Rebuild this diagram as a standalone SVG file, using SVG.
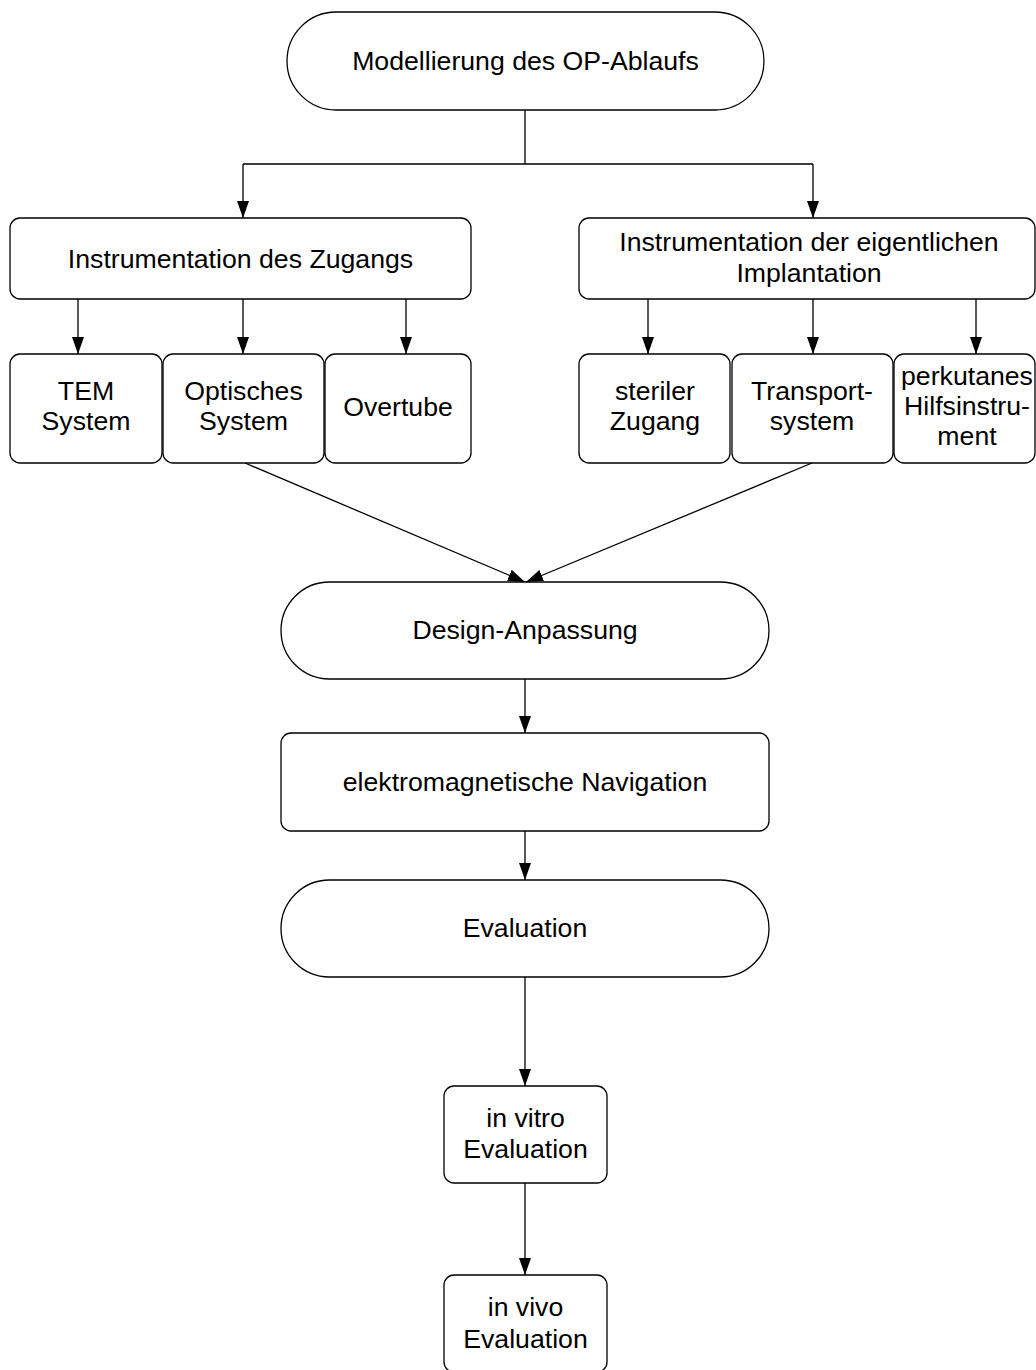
<svg xmlns="http://www.w3.org/2000/svg" width="1036" height="1370" viewBox="0 0 1036 1370">
<style>
.n{fill:#fff;stroke:#000;stroke-width:1.3}
.t{font-family:"Liberation Sans",Arial,sans-serif;font-size:26.67px;fill:#000;text-anchor:middle}
.c{fill:none;stroke:#000;stroke-width:1.3}
</style>
<defs>
<marker id="ah" markerUnits="userSpaceOnUse" markerWidth="17" markerHeight="12" refX="17" refY="6" orient="auto" viewBox="0 0 17 12">
<path d="M0,0 L17,6 L0,12 z" fill="#000"/>
</marker>
</defs>
<rect width="1036" height="1370" fill="#fff"/>
<g id="connectors">
<path class="c" d="M525,110 V164 M243,164 H813"/>
<path class="c" d="M243,164 V218" marker-end="url(#ah)"/>
<path class="c" d="M813,164 V218" marker-end="url(#ah)"/>
<path class="c" d="M78,299 V354" marker-end="url(#ah)"/>
<path class="c" d="M243,299 V354" marker-end="url(#ah)"/>
<path class="c" d="M406,299 V354" marker-end="url(#ah)"/>
<path class="c" d="M648,299 V354" marker-end="url(#ah)"/>
<path class="c" d="M813,299 V354" marker-end="url(#ah)"/>
<path class="c" d="M976,299 V354" marker-end="url(#ah)"/>
<path class="c" d="M245,463 L525,582" marker-end="url(#ah)"/>
<path class="c" d="M812,463 L526,582" marker-end="url(#ah)"/>
<path class="c" d="M525,679 V733" marker-end="url(#ah)"/>
<path class="c" d="M525,831 V880" marker-end="url(#ah)"/>
<path class="c" d="M525,977 V1086" marker-end="url(#ah)"/>
<path class="c" d="M525,1183 V1275" marker-end="url(#ah)"/>
</g>
<g id="n-modell">
<rect class="n" x="287" y="12" width="477" height="98" rx="49"/>
<text class="t" x="525.5" y="70">Modellierung des OP-Ablaufs</text>
</g>
<g id="n-zugang">
<rect class="n" x="10" y="218" width="461" height="81" rx="10"/>
<text class="t" x="240.5" y="268">Instrumentation des Zugangs</text>
</g>
<g id="n-implant">
<rect class="n" x="579" y="218" width="456" height="81" rx="10"/>
<text class="t" x="809" y="251">Instrumentation der eigentlichen</text>
<text class="t" x="809" y="282">Implantation</text>
</g>
<g id="n-tem">
<rect class="n" x="10" y="354" width="152" height="109" rx="10"/>
<text class="t" x="86" y="400">TEM</text>
<text class="t" x="86" y="430">System</text>
</g>
<g id="n-optisch">
<rect class="n" x="163" y="354" width="161" height="109" rx="10"/>
<text class="t" x="243.5" y="400">Optisches</text>
<text class="t" x="243.5" y="430">System</text>
</g>
<g id="n-overtube">
<rect class="n" x="325" y="354" width="146" height="109" rx="10"/>
<text class="t" x="398" y="416">Overtube</text>
</g>
<g id="n-steril">
<rect class="n" x="579" y="354" width="151" height="109" rx="10"/>
<text class="t" x="655" y="400">steriler</text>
<text class="t" x="655" y="430">Zugang</text>
</g>
<g id="n-transport">
<rect class="n" x="732" y="354" width="161" height="109" rx="10"/>
<text class="t" x="812" y="400">Transport-</text>
<text class="t" x="812" y="430">system</text>
</g>
<g id="n-perkutan">
<rect class="n" x="894" y="354" width="141" height="109" rx="10"/>
<text class="t" x="967" y="385">perkutanes</text>
<text class="t" x="967" y="415">Hilfsinstru-</text>
<text class="t" x="967" y="445">ment</text>
</g>
<g id="n-design">
<rect class="n" x="281" y="582" width="488" height="97" rx="48.5"/>
<text class="t" x="525" y="639">Design-Anpassung</text>
</g>
<g id="n-navi">
<rect class="n" x="281" y="733" width="488" height="98" rx="10"/>
<text class="t" x="525" y="791">elektromagnetische Navigation</text>
</g>
<g id="n-eval">
<rect class="n" x="281" y="880" width="488" height="97" rx="48.5"/>
<text class="t" x="525" y="937">Evaluation</text>
</g>
<g id="n-vitro">
<rect class="n" x="444" y="1086" width="163" height="97" rx="10"/>
<text class="t" x="525.5" y="1127">in vitro</text>
<text class="t" x="525.5" y="1158">Evaluation</text>
</g>
<g id="n-vivo">
<rect class="n" x="444" y="1275" width="163" height="97" rx="10"/>
<text class="t" x="525.5" y="1316">in vivo</text>
<text class="t" x="525.5" y="1348">Evaluation</text>
</g>
</svg>
